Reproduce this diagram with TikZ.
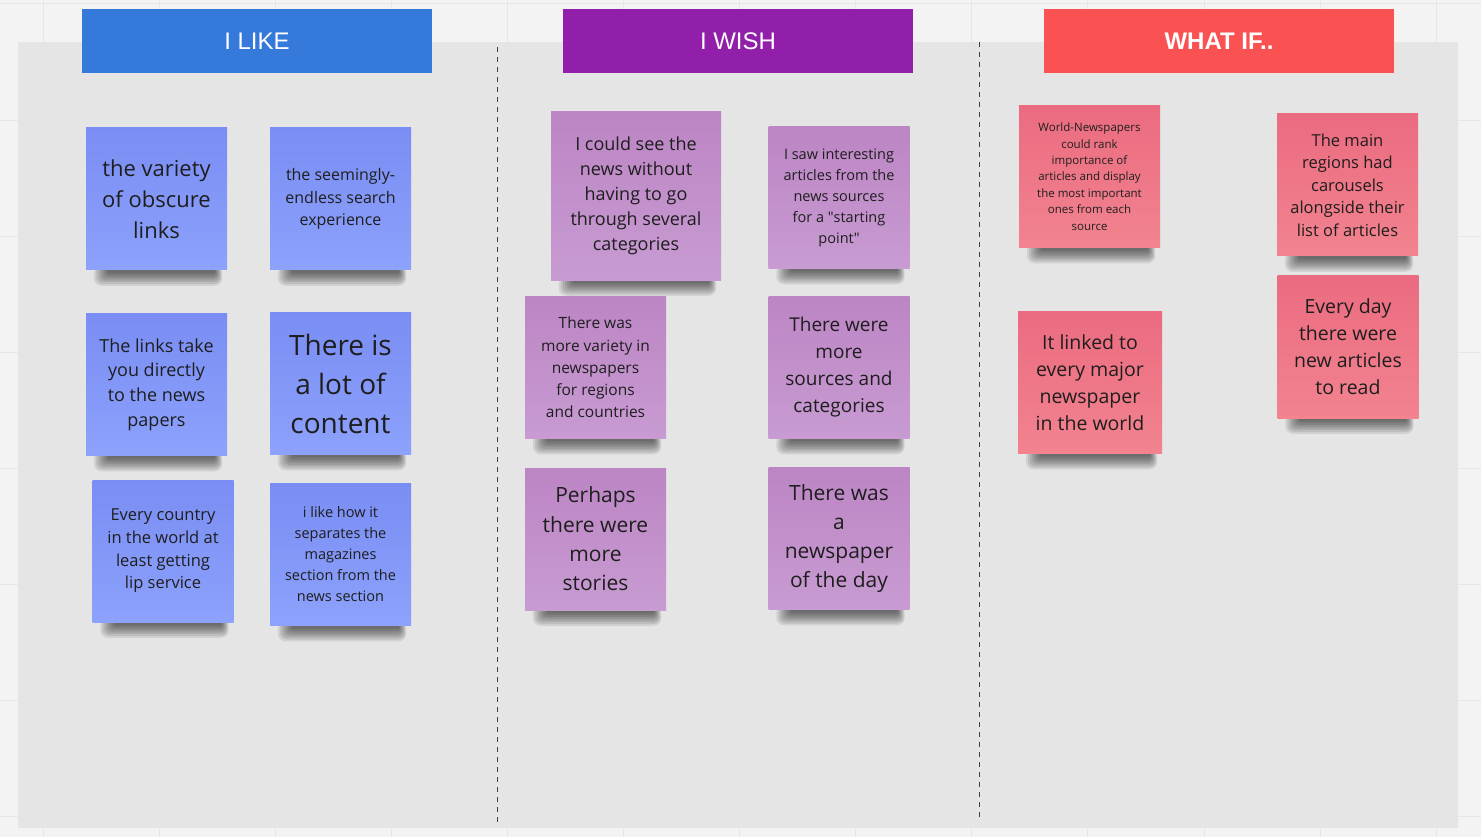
\documentclass[tikz,border=0pt]{standalone}
\usepackage{fontspec}
\setmainfont{Open Sans}
\newfontfamily\headfont{Liberation Sans}
\usetikzlibrary{shapes,positioning,calc}

\definecolor{boardbg}{HTML}{F3F3F3}
\definecolor{gridline}{HTML}{E6E6E6}
\definecolor{panelbg}{HTML}{E5E5E5}
\definecolor{likehead}{HTML}{3579DA}
\definecolor{wishhead}{HTML}{921FAA}
\definecolor{ifhead}{HTML}{FA5252}
\definecolor{likeA}{HTML}{7A8DF4}
\definecolor{likeB}{HTML}{8CA2FB}
\definecolor{wishA}{HTML}{BC85C4}
\definecolor{wishB}{HTML}{C89BD2}
\definecolor{ifA}{HTML}{EB6B80}
\definecolor{ifB}{HTML}{F2838F}
\definecolor{notetext}{HTML}{1E1E1E}

\pgfdeclarelayer{board}
\pgfdeclarelayer{drop}
\pgfsetlayers{board,drop,main}

\tikzset{
  header/.style={minimum width=350, minimum height=64, inner sep=0, text=white, font=\headfont\fontsize{24}{28}\selectfont},
  sticky/.style={minimum width=141, minimum height=142, inner sep=0, align=center, text=notetext},
  likenote/.style={sticky, top color=likeA, bottom color=likeB},
  wishnote/.style={sticky, top color=wishA, bottom color=wishB},
  ifnote/.style={sticky, top color=ifA, bottom color=ifB},
  dropshade/.style={fill=black, fill opacity=0.085},
  divider/.style={draw=black!75, line width=0.8pt, dash pattern=on 5pt off 5pt}
}

% soft shadow under a sticky note
\newcommand\notedrop[1]{%
  \foreach \k in {0,...,7}
    {\fill[dropshade, rounded corners={2pt+0.8pt*\k}] ($(#1.south west)+(22-2*\k,-4)$) rectangle ($(#1.south east)+(-12+\k,3+1.8*\k)$);}
}

\begin{document}
\begin{tikzpicture}[x=1pt,y=-1pt]
\begin{pgfonlayer}{board}
\useasboundingbox[fill=boardbg] (0,0) rectangle (1481,837);
\foreach \i in {0,...,12}
  \draw[gridline, line width=1pt] ({43+116.1*\i},0) -- ({43+116.1*\i},837);
\foreach \j in {0,...,7}
  \draw[gridline, line width=1pt] (0,{4+116.1*\j}) -- (1481,{4+116.1*\j});
\fill[panelbg] (18,42) rectangle (1458,828);
\end{pgfonlayer}

\coordinate (div1top) at (497,47);
\coordinate (div1bot) at (497,826);
\coordinate (div2top) at (979,42);
\coordinate (div2bot) at (979,820);
\draw[divider] (div1top) -- (div1bot);
\draw[divider] (div2top) -- (div2bot);

\node[header, fill=likehead] (likehd) at (257,41) {I LIKE};
\node[header, fill=wishhead] (wishhd) at (738,41) {I WISH};
\node[header, fill=ifhead, font=\headfont\bfseries\fontsize{24}{28}\selectfont] (ifhd) at (1219,41) {WHAT IF..};

\node[likenote, font=\fontsize{22}{31}\selectfont] (like1) at (156.5,199) {the variety\\of obscure\\links};
\node[likenote, font=\fontsize{16}{22.5}\selectfont] (like2) at (340.5,199) {the seemingly-\\endless search\\experience};
\node[likenote, font=\fontsize{18}{24.7}\selectfont] (like3) at (156.5,384.5) {The links take\\you directly\\to the news\\papers};
\node[likenote, font=\fontsize{28}{39}\selectfont] (like4) at (340.5,383.5) {There is\\a lot of\\content};
\node[likenote, font=\fontsize{16.5}{22.7}\selectfont] (like5) at (163,551) {Every country\\in the world at\\least getting\\lip service};
\node[likenote, font=\fontsize{14.5}{21}\selectfont] (like6) at (340.5,554.5) {i like how it\\separates the\\magazines\\section from the\\news section};

\node[wishnote, minimum width=170, minimum height=168, font=\fontsize{18}{25}\selectfont] (wish1) at (636,196) {I could see the\\news without\\having to go\\through several\\categories};
\node[wishnote, font=\fontsize{14.5}{21}\selectfont] (wish2) at (839,197.5) {I saw interesting\\articles from the\\news sources\\for a \textquotedbl starting\\point\textquotedbl};
\node[wishnote, font=\fontsize{15.5}{22.3}\selectfont] (wish3) at (595.5,367.5) {There was\\more variety in\\newspapers\\for regions\\and countries};
\node[wishnote, font=\fontsize{19}{27}\selectfont] (wish4) at (839,367.5) {There were\\more\\sources and\\categories};
\node[wishnote, font=\fontsize{21}{29.3}\selectfont] (wish5) at (595.5,539) {Perhaps\\there were\\more\\stories};
\node[wishnote, font=\fontsize{21}{29.3}\selectfont] (wish6) at (839,538.5) {There was\\a\\newspaper\\of the day};

\node[ifnote, font=\fontsize{11.5}{16.4}\selectfont] (if1) at (1089.5,176.5) {World-Newspapers\\could rank\\importance of\\articles and display\\the most important\\ones from each\\source};
\node[ifnote, font=\fontsize{16.5}{22.5}\selectfont] (if2) at (1347.5,185) {The main\\regions had\\carousels\\alongside their\\list of articles};
\node[ifnote, minimum width=144, font=\fontsize{19.5}{27}\selectfont] (if3) at (1090,382.5) {It linked to\\every major\\newspaper\\in the world};
\node[ifnote, font=\fontsize{19.5}{27}\selectfont] (if4) at (1348,347) {Every day\\there were\\new articles\\to read};

\begin{pgfonlayer}{drop}
\foreach \n in {like1,like2,like3,like4,like5,like6,wish1,wish2,wish3,wish4,wish5,wish6,if1,if2,if3,if4}
  {\notedrop{\n}}
\end{pgfonlayer}
\end{tikzpicture}
\end{document}
